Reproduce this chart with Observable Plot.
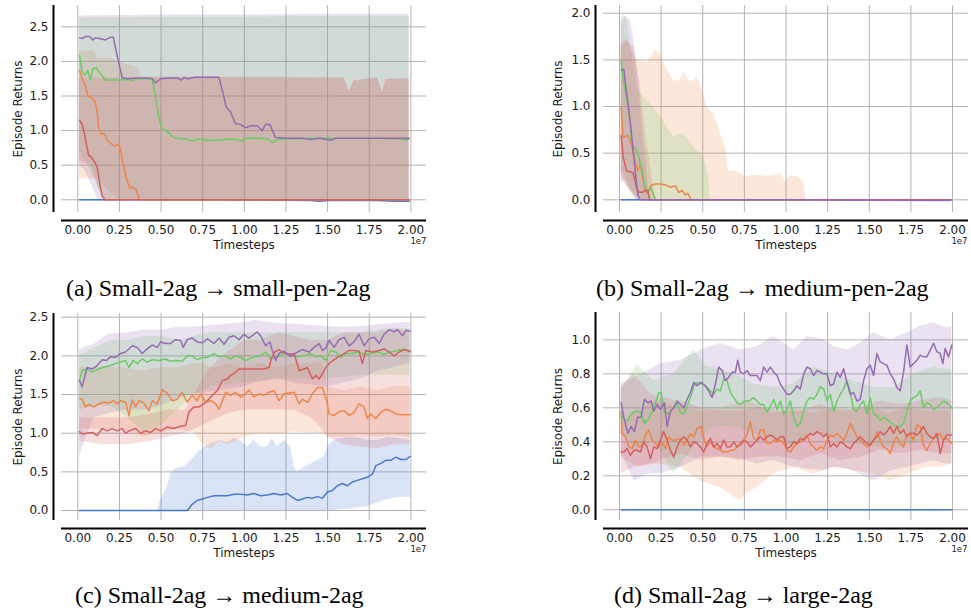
<!DOCTYPE html>
<html>
<head>
<meta charset="utf-8">
<script src="https://cdn.jsdelivr.net/npm/d3@7"></script>
<script src="https://cdn.jsdelivr.net/npm/@observablehq/plot@0.6"></script>
<style>
  html, body { margin: 0; padding: 0; background: #fff; }
  #root { position: relative; width: 971px; height: 614px; overflow: hidden; background: #fff; }
  .panel { position: absolute; }
  .cap { position: absolute; font-family: "Liberation Serif", "Times New Roman", serif; font-size: 24px; line-height: 1; color: #000; white-space: nowrap; }
</style>
</head>
<body>
<div id="root"></div>
<script>
// ---------- shared ----------
const seriesNames = ["blue", "orange", "green", "red", "purple"];
const seriesColors = ["#4878d0", "#ee854a", "#6acc64", "#d65f5f", "#956cb4"];
const xTicks = [0, 0.25, 0.5, 0.75, 1.0, 1.25, 1.5, 1.75, 2.0];
const yTicksA = [0, 0.5, 1.0, 1.5, 2.0, 2.5];
const yTicksB = [0, 0.5, 1.0, 1.5, 2.0];
const yTicksC = [0, 0.5, 1.0, 1.5, 2.0, 2.5];
const yTicksD = [0, 0.2, 0.4, 0.6, 0.8, 1.0];
const captions = [
  "(a) Small-2ag \u2192 small-pen-2ag",
  "(b) Small-2ag \u2192 medium-pen-2ag",
  "(c) Small-2ag \u2192 medium-2ag",
  "(d) Small-2ag \u2192 large-2ag"
];

// ---------- panel (a): mean lines [x(1e7), y] ----------
const a_blue = [[0.01,0],[0.5,0],[0.9,0],[0.95,-0.005],[1.0,0],[1.4,-0.01],[1.45,-0.02],[1.5,-0.01],[1.8,-0.01],[1.9,-0.02],[1.99,-0.02]];
const a_orange = [[0.01,1.87],[0.03,1.72],[0.045,1.65],[0.06,1.5],[0.08,1.48],[0.1,1.44],[0.115,1.3],[0.125,1.05],[0.14,0.95],[0.16,0.95],[0.18,0.85],[0.2,0.81],[0.22,0.78],[0.24,0.80],[0.255,0.75],[0.27,0.55],[0.29,0.33],[0.31,0.17],[0.33,0.18],[0.35,0.15],[0.37,0],[1.0,0],[1.99,0]];
const a_green = [[0.01,2.09],[0.026,1.84],[0.045,1.80],[0.06,1.87],[0.075,1.73],[0.09,1.89],[0.11,1.91],[0.13,1.84],[0.166,1.73],[0.2,1.73],[0.25,1.73],[0.3,1.74],[0.327,1.72],[0.35,1.75],[0.4,1.75],[0.447,1.75],[0.467,1.48],[0.487,1.19],[0.507,1.01],[0.53,1.0],[0.577,0.90],[0.6,0.89],[0.65,0.88],[0.687,0.85],[0.72,0.88],[0.787,0.86],[0.85,0.86],[0.9,0.88],[0.95,0.87],[0.987,0.85],[1.0,0.89],[1.05,0.89],[1.1,0.89],[1.14,0.88],[1.168,0.83],[1.2,0.87],[1.25,0.88],[1.4,0.89],[1.6,0.89],[1.8,0.89],[1.95,0.88],[1.97,0.86],[1.99,0.88]];
const a_red = [[0.01,1.15],[0.025,1.1],[0.04,0.95],[0.065,0.64],[0.08,0.62],[0.1,0.55],[0.117,0.47],[0.13,0.25],[0.147,0.05],[0.166,0],[1.0,0],[1.99,0]];
const a_purple = [[0.01,2.34],[0.026,2.33],[0.046,2.36],[0.07,2.36],[0.09,2.31],[0.106,2.34],[0.13,2.33],[0.166,2.31],[0.196,2.35],[0.213,2.35],[0.24,2.04],[0.267,1.76],[0.3,1.75],[0.35,1.76],[0.417,1.76],[0.447,1.75],[0.467,1.69],[0.497,1.75],[0.55,1.76],[0.6,1.76],[0.62,1.73],[0.64,1.77],[0.66,1.75],[0.7,1.77],[0.75,1.77],[0.8,1.77],[0.847,1.77],[0.873,1.53],[0.891,1.34],[0.917,1.27],[0.947,1.10],[0.977,1.09],[1.007,1.04],[1.037,1.07],[1.077,1.07],[1.107,1.0],[1.127,1.09],[1.153,1.09],[1.187,0.90],[1.25,0.89],[1.35,0.89],[1.4,0.87],[1.45,0.89],[1.5,0.87],[1.52,0.86],[1.55,0.89],[1.7,0.89],[1.85,0.89],[1.99,0.89]];
// bands [x, lo, hi]
const a_blue_band = [[0.01,0,0],[1.35,-0.01,0.005],[1.45,-0.03,0.005],[1.6,-0.02,0.005],[1.99,-0.03,0.005]];
const a_orange_band = [[0.01,0.3,2.15],[0.1,0.3,2.15],[0.12,0.3,2.05],[0.2,0.1,2.05],[0.25,0,1.98],[0.3,0,1.95],[0.36,0,1.92],[0.38,0,1.77],[1.0,0,1.77],[1.6,0,1.76],[1.63,0,1.57],[1.66,0,1.72],[1.8,0,1.76],[1.83,0,1.55],[1.85,0,1.74],[1.99,0,1.75]];
const a_green_band = [[0.01,0.65,2.62],[0.05,0.55,2.63],[0.1,0.3,2.63],[0.15,0,2.63],[0.5,0,2.64],[1.0,0,2.64],[1.5,0,2.65],[1.99,0,2.65]];
const a_red_band = [[0.01,0.55,1.76],[0.08,0.5,1.76],[0.12,0.2,1.76],[0.16,0,1.76],[0.5,0,1.77],[1.0,0,1.77],[1.6,0,1.76],[1.63,0,1.57],[1.66,0,1.72],[1.8,0,1.76],[1.83,0,1.55],[1.85,0,1.74],[1.99,0,1.75]];
const a_purple_band = [[0.01,0.5,2.65],[0.05,0.4,2.66],[0.12,0,2.66],[0.5,0,2.67],[1.0,0,2.67],[1.5,0,2.68],[1.99,0,2.68]];

// ---------- panel (b) ----------
const b_blue = [[0.01,0],[1.0,0],[1.5,0],[1.99,0]];
const b_orange = [[0.01,1.0],[0.022,0.67],[0.046,0.69],[0.06,0.66],[0.076,0.56],[0.096,0.39],[0.11,0.31],[0.126,0.40],[0.142,0.21],[0.156,0.09],[0.17,0.07],[0.186,0.15],[0.216,0.17],[0.246,0.17],[0.276,0.16],[0.306,0.135],[0.336,0.15],[0.356,0.08],[0.376,0.10],[0.396,0.05],[0.41,0.07],[0.43,0],[1.0,0],[1.99,0]];
const b_green = [[0.01,1.49],[0.022,1.30],[0.046,1.06],[0.066,0.81],[0.076,0.56],[0.096,0.55],[0.116,0.46],[0.136,0.31],[0.156,0.135],[0.17,0.08],[0.186,0.13],[0.2,0.08],[0.216,0],[1.0,0],[1.99,0]];
const b_red = [[0.01,0.69],[0.022,0.46],[0.042,0.31],[0.062,0.30],[0.082,0.29],[0.102,0.135],[0.116,0.08],[0.136,0.08],[0.156,0.10],[0.17,0.10],[0.182,0],[1.0,0],[1.99,0]];
const b_purple = [[0.01,1.39],[0.026,1.40],[0.036,1.24],[0.056,0.96],[0.076,0.64],[0.096,0.28],[0.11,0.06],[0.122,0],[1.0,0],[1.6,-0.005],[1.99,-0.005]];
const b_blue_band = [[0.01,0,0],[1.5,-0.005,0.005],[1.6,-0.02,0.005],[1.99,-0.03,0.005]];
const b_orange_band = [[0.01,0.3,1.65],[0.05,0.15,1.7],[0.1,0.05,1.5],[0.126,0,1.49],[0.166,0,1.47],[0.216,0,1.60],[0.246,0,1.56],[0.286,0,1.39],[0.326,0,1.28],[0.36,0,1.27],[0.386,0,1.37],[0.416,0,1.28],[0.446,0,1.27],[0.466,0,1.31],[0.496,0,1.19],[0.526,0,0.99],[0.566,0,0.92],[0.606,0,0.71],[0.636,0,0.56],[0.656,0,0.31],[0.706,0,0.31],[0.73,0,0.28],[0.756,0,0.25],[0.8,0,0.26],[0.846,0,0.26],[0.88,0,0.25],[0.926,0,0.26],[0.966,0,0.28],[0.996,0,0.19],[1.026,0,0.26],[1.07,0,0.25],[1.106,0,0.19],[1.12,0,0],[1.99,0,0]];
const b_green_band = [[0.01,0.3,1.96],[0.022,0.3,1.99],[0.046,0.2,1.92],[0.08,0.05,1.5],[0.1,0,1.25],[0.126,0,1.14],[0.186,0,1.03],[0.246,0,0.89],[0.326,0,0.67],[0.386,0,0.71],[0.446,0,0.56],[0.506,0,0.46],[0.536,0,0.24],[0.546,0,0],[1.99,0,0]];
const b_red_band = [[0.01,0.25,1.67],[0.036,0.15,1.72],[0.086,0.05,1.64],[0.1,0,1.5],[0.126,0,1.2],[0.156,0,0.71],[0.186,0,0.35],[0.216,0,0],[1.99,0,0]];
const b_purple_band = [[0.01,0.2,1.90],[0.036,0.2,1.97],[0.066,0.1,1.92],[0.086,0.05,1.71],[0.116,0,1.24],[0.136,0,0.78],[0.156,0,0.46],[0.176,0,0.1],[0.186,0,0],[1.99,0,0]];

// ---------- panel (c) ----------
const c_blue = [[0.01,0],[0.3,0],[0.657,0],[0.687,0.08],[0.717,0.13],[0.748,0.15],[0.778,0.17],[0.818,0.19],[0.858,0.19],[0.898,0.19],[0.938,0.21],[0.978,0.21],[1.018,0.20],[1.058,0.22],[1.098,0.19],[1.138,0.20],[1.178,0.22],[1.218,0.20],[1.258,0.22],[1.289,0.17],[1.319,0.13],[1.349,0.15],[1.379,0.17],[1.409,0.16],[1.439,0.18],[1.469,0.16],[1.499,0.24],[1.529,0.26],[1.559,0.32],[1.589,0.35],[1.619,0.32],[1.649,0.37],[1.679,0.39],[1.709,0.41],[1.739,0.43],[1.769,0.47],[1.79,0.58],[1.82,0.61],[1.85,0.65],[1.88,0.65],[1.91,0.69],[1.94,0.66],[1.97,0.66],[1.996,0.70]];
const c_orange = [[0.01,1.45],[0.026,1.44],[0.046,1.34],[0.066,1.37],[0.096,1.34],[0.126,1.38],[0.156,1.40],[0.186,1.39],[0.216,1.42],[0.236,1.38],[0.256,1.42],[0.287,1.40],[0.307,1.23],[0.327,1.43],[0.347,1.34],[0.367,1.42],[0.397,1.39],[0.427,1.29],[0.447,1.42],[0.477,1.38],[0.507,1.56],[0.537,1.52],[0.567,1.42],[0.597,1.44],[0.627,1.53],[0.657,1.40],[0.687,1.49],[0.717,1.42],[0.737,1.51],[0.768,1.40],[0.798,1.42],[0.828,1.38],[0.848,1.31],[0.868,1.42],[0.888,1.53],[0.918,1.49],[0.948,1.53],[0.978,1.47],[1.008,1.51],[1.028,1.56],[1.058,1.47],[1.088,1.51],[1.118,1.49],[1.148,1.53],[1.178,1.55],[1.208,1.42],[1.238,1.51],[1.269,1.52],[1.299,1.53],[1.329,1.38],[1.349,1.44],[1.379,1.40],[1.409,1.51],[1.439,1.59],[1.469,1.59],[1.495,1.42],[1.509,1.25],[1.539,1.23],[1.569,1.28],[1.599,1.29],[1.629,1.23],[1.659,1.27],[1.689,1.38],[1.719,1.34],[1.739,1.19],[1.759,1.25],[1.79,1.19],[1.82,1.27],[1.85,1.31],[1.88,1.29],[1.91,1.25],[1.94,1.24],[1.996,1.24]];
const c_green = [[0.01,1.68],[0.026,1.81],[0.056,1.83],[0.086,1.79],[0.116,1.82],[0.146,1.85],[0.196,1.875],[0.226,1.90],[0.256,1.92],[0.287,1.94],[0.307,1.85],[0.333,1.94],[0.357,1.90],[0.387,1.96],[0.417,1.92],[0.447,1.95],[0.487,1.94],[0.527,1.96],[0.557,1.93],[0.587,1.94],[0.627,1.93],[0.657,2.0],[0.687,2.0],[0.717,1.95],[0.748,1.98],[0.778,1.98],[0.818,2.03],[0.848,1.99],[0.878,2.0],[0.918,1.96],[0.948,2.0],[0.978,1.98],[1.008,1.94],[1.038,1.97],[1.068,1.99],[1.098,2.0],[1.128,2.05],[1.158,1.96],[1.188,1.99],[1.218,2.0],[1.248,2.05],[1.279,2.0],[1.319,1.99],[1.359,2.0],[1.399,2.03],[1.429,1.99],[1.459,2.0],[1.489,1.94],[1.519,2.07],[1.549,2.05],[1.579,1.98],[1.609,2.03],[1.649,2.03],[1.679,2.05],[1.719,2.02],[1.759,2.03],[1.80,2.05],[1.84,2.02],[1.88,2.05],[1.92,2.07],[1.96,2.09],[1.996,2.05]];
const c_red = [[0.01,1.02],[0.026,0.99],[0.056,1.0],[0.086,1.01],[0.116,0.97],[0.146,1.06],[0.176,1.03],[0.206,1.06],[0.236,1.03],[0.266,1.06],[0.287,1.0],[0.317,1.04],[0.347,1.06],[0.377,1.0],[0.407,1.03],[0.437,1.01],[0.467,1.06],[0.497,1.03],[0.537,1.08],[0.577,1.06],[0.617,1.09],[0.647,1.10],[0.667,1.27],[0.697,1.34],[0.727,1.34],[0.757,1.38],[0.778,1.42],[0.808,1.49],[0.838,1.55],[0.868,1.68],[0.898,1.70],[0.918,1.75],[0.938,1.77],[0.968,1.83],[0.998,1.83],[1.038,1.83],[1.078,1.83],[1.118,1.83],[1.148,1.85],[1.162,1.96],[1.182,2.05],[1.208,2.08],[1.228,2.05],[1.248,2.03],[1.279,2.02],[1.299,2.03],[1.329,1.81],[1.359,1.83],[1.379,1.85],[1.409,1.70],[1.429,1.75],[1.449,1.70],[1.469,1.77],[1.489,1.85],[1.519,1.92],[1.559,1.98],[1.599,2.03],[1.629,2.07],[1.659,2.07],[1.689,2.06],[1.709,1.90],[1.729,2.07],[1.769,2.05],[1.81,2.07],[1.84,2.09],[1.87,2.05],[1.90,2.0],[1.93,2.05],[1.96,2.08],[1.996,2.06]];
const c_purple = [[0.01,1.68],[0.026,1.60],[0.056,1.85],[0.086,1.83],[0.116,1.875],[0.146,1.95],[0.172,1.94],[0.196,1.99],[0.226,1.98],[0.256,2.03],[0.287,2.05],[0.327,2.13],[0.357,2.11],[0.387,2.03],[0.417,2.09],[0.447,2.14],[0.477,2.11],[0.497,2.18],[0.527,2.16],[0.557,2.16],[0.587,2.21],[0.617,2.20],[0.633,2.11],[0.657,2.21],[0.687,2.23],[0.717,2.18],[0.748,2.17],[0.778,2.22],[0.818,2.16],[0.848,2.23],[0.878,2.15],[0.908,2.24],[0.938,2.26],[0.968,2.21],[0.998,2.28],[1.028,2.23],[1.058,2.28],[1.078,2.31],[1.098,2.26],[1.128,2.13],[1.154,2.18],[1.168,2.07],[1.188,1.94],[1.208,2.03],[1.238,2.06],[1.279,1.99],[1.319,2.05],[1.349,2.08],[1.389,2.05],[1.419,2.11],[1.449,2.16],[1.469,2.07],[1.489,2.10],[1.509,2.20],[1.539,2.11],[1.569,2.21],[1.599,2.24],[1.629,2.13],[1.659,2.18],[1.689,2.28],[1.719,2.13],[1.749,2.22],[1.78,2.24],[1.81,2.16],[1.84,2.28],[1.87,2.34],[1.90,2.31],[1.92,2.34],[1.95,2.26],[1.97,2.33],[1.996,2.32]];
const c_blue_band = [[0.01,0,0],[0.477,0,0],[0.497,0,0.13],[0.537,0,0.30],[0.557,0,0.47],[0.587,0,0.54],[0.627,0,0.56],[0.657,0,0.60],[0.697,0,0.69],[0.737,0,0.78],[0.778,0,0.84],[0.818,0,0.88],[0.858,0,0.905],[0.898,0,0.88],[0.938,0,0.93],[0.978,0,0.905],[1.018,0,0.82],[1.058,0,0.91],[1.098,0,0.82],[1.138,0,0.82],[1.168,0,0.93],[1.198,0,0.82],[1.238,0,0.905],[1.279,0,0.82],[1.299,0,0.56],[1.319,0,0.50],[1.359,0,0.56],[1.399,0,0.60],[1.439,0,0.65],[1.479,0,0.69],[1.499,0,0.82],[1.539,0,0.905],[1.579,0.01,0.93],[1.639,0.02,0.95],[1.699,0.04,0.93],[1.74,0.05,0.905],[1.8,0.1,0.905],[1.84,0.13,0.93],[1.86,0.14,0.95],[1.92,0.17,0.93],[1.996,0.17,0.905]];
const c_orange_band = [[0.01,1.05,1.85],[0.1,1.05,1.85],[0.25,1.05,1.85],[0.4,0.95,1.8],[0.5,1.0,1.85],[0.6,1.05,1.85],[0.7,1.0,1.9],[0.75,0.85,1.9],[0.8,0.8,1.85],[0.85,0.9,1.85],[0.9,0.85,1.9],[1.0,0.95,1.85],[1.1,1.0,1.9],[1.2,0.98,1.85],[1.3,1.02,1.9],[1.4,1.0,1.9],[1.47,1.0,1.92],[1.5,0.95,1.6],[1.6,0.95,1.55],[1.7,0.97,1.6],[1.8,0.95,1.55],[1.9,0.97,1.6],[1.996,0.95,1.6]];
const c_green_band = [[0.01,1.3,2.0],[0.1,1.35,2.1],[0.2,1.35,2.2],[0.3,1.2,2.2],[0.4,1.0,2.25],[0.5,1.1,2.25],[0.6,1.3,2.2],[0.7,1.5,2.25],[0.8,1.6,2.3],[1.0,1.65,2.3],[1.2,1.7,2.3],[1.5,1.7,2.3],[1.7,1.75,2.3],[1.85,1.75,2.35],[1.996,1.75,2.35]];
const c_red_band = [[0.01,0.9,1.2],[0.15,0.85,1.2],[0.3,0.85,1.2],[0.45,0.9,1.25],[0.55,0.95,1.3],[0.65,1.0,1.3],[0.7,1.05,1.5],[0.75,1.1,1.7],[0.8,1.15,1.85],[0.9,1.25,2.05],[1.0,1.3,2.2],[1.1,1.3,2.2],[1.2,1.3,2.3],[1.3,1.3,2.25],[1.4,1.2,2.2],[1.45,1.1,2.2],[1.5,0.95,2.2],[1.55,0.9,2.25],[1.6,0.85,2.3],[1.7,0.82,2.3],[1.8,0.8,2.3],[1.9,0.85,2.35],[1.996,0.85,2.3]];
const c_purple_band = [[0.01,0.7,2.07],[0.05,0.95,2.12],[0.1,1.2,2.15],[0.18,1.25,2.28],[0.3,1.3,2.3],[0.4,1.3,2.33],[0.5,1.35,2.33],[0.6,1.45,2.37],[0.7,1.5,2.37],[0.85,1.55,2.4],[1.0,1.6,2.43],[1.06,1.65,2.46],[1.2,1.7,2.42],[1.3,1.65,2.41],[1.5,1.6,2.38],[1.6,1.65,2.37],[1.7,1.7,2.38],[1.8,1.8,2.4],[1.9,1.85,2.42],[1.996,1.9,2.43]];

// ---------- panel (d) ----------
const d_blue = [[0.01,0],[1.0,0],[1.996,0]];
const d_orange = [[0.01,0.58],[0.016,0.45],[0.036,0.43],[0.056,0.37],[0.076,0.36],[0.096,0.41],[0.116,0.37],[0.136,0.38],[0.156,0.44],[0.176,0.47],[0.196,0.41],[0.216,0.39],[0.236,0.37],[0.256,0.40],[0.276,0.36],[0.296,0.43],[0.316,0.41],[0.336,0.41],[0.366,0.42],[0.386,0.38],[0.406,0.41],[0.426,0.45],[0.446,0.43],[0.466,0.48],[0.49,0.49],[0.51,0.41],[0.526,0.37],[0.546,0.40],[0.566,0.37],[0.586,0.36],[0.606,0.35],[0.626,0.34],[0.646,0.34],[0.666,0.35],[0.686,0.35],[0.706,0.37],[0.726,0.38],[0.746,0.40],[0.766,0.44],[0.786,0.52],[0.806,0.42],[0.826,0.41],[0.846,0.47],[0.866,0.47],[0.886,0.39],[0.906,0.39],[0.926,0.41],[0.946,0.40],[0.966,0.41],[0.986,0.39],[1.006,0.35],[1.026,0.34],[1.046,0.37],[1.066,0.39],[1.086,0.40],[1.106,0.42],[1.126,0.44],[1.146,0.39],[1.166,0.37],[1.186,0.35],[1.206,0.37],[1.226,0.36],[1.246,0.41],[1.266,0.44],[1.286,0.43],[1.306,0.45],[1.326,0.43],[1.346,0.41],[1.366,0.45],[1.386,0.51],[1.406,0.47],[1.426,0.43],[1.446,0.41],[1.466,0.39],[1.486,0.37],[1.506,0.39],[1.526,0.41],[1.546,0.46],[1.566,0.41],[1.586,0.37],[1.606,0.36],[1.626,0.33],[1.646,0.40],[1.666,0.43],[1.686,0.39],[1.706,0.37],[1.726,0.44],[1.746,0.45],[1.766,0.41],[1.786,0.50],[1.806,0.49],[1.826,0.38],[1.846,0.35],[1.866,0.39],[1.886,0.42],[1.906,0.43],[1.926,0.45],[1.946,0.41],[1.966,0.42],[1.996,0.39]];
const d_green = [[0.01,0.57],[0.026,0.53],[0.05,0.525],[0.07,0.565],[0.096,0.58],[0.126,0.575],[0.15,0.51],[0.176,0.535],[0.206,0.60],[0.236,0.69],[0.25,0.69],[0.27,0.575],[0.296,0.565],[0.322,0.60],[0.346,0.63],[0.366,0.57],[0.386,0.565],[0.406,0.61],[0.426,0.66],[0.45,0.74],[0.476,0.75],[0.496,0.74],[0.526,0.72],[0.546,0.70],[0.566,0.68],[0.586,0.71],[0.606,0.70],[0.626,0.77],[0.646,0.76],[0.666,0.69],[0.686,0.66],[0.706,0.63],[0.726,0.62],[0.75,0.64],[0.776,0.64],[0.806,0.66],[0.826,0.64],[0.846,0.62],[0.866,0.62],[0.886,0.575],[0.906,0.61],[0.926,0.65],[0.946,0.59],[0.966,0.64],[0.986,0.565],[1.006,0.59],[1.026,0.64],[1.046,0.545],[1.066,0.49],[1.086,0.51],[1.106,0.58],[1.126,0.64],[1.146,0.66],[1.166,0.65],[1.186,0.68],[1.206,0.725],[1.226,0.71],[1.246,0.64],[1.266,0.68],[1.286,0.58],[1.306,0.64],[1.326,0.68],[1.346,0.71],[1.366,0.76],[1.386,0.69],[1.406,0.59],[1.426,0.58],[1.446,0.62],[1.466,0.64],[1.486,0.565],[1.506,0.66],[1.526,0.565],[1.546,0.555],[1.566,0.525],[1.586,0.545],[1.606,0.535],[1.626,0.515],[1.646,0.50],[1.666,0.49],[1.686,0.49],[1.706,0.51],[1.726,0.58],[1.746,0.64],[1.766,0.66],[1.786,0.67],[1.806,0.70],[1.826,0.60],[1.846,0.63],[1.866,0.62],[1.886,0.59],[1.906,0.60],[1.926,0.62],[1.946,0.64],[1.966,0.63],[1.996,0.60]];
const d_red = [[0.01,0.34],[0.026,0.34],[0.046,0.36],[0.066,0.32],[0.086,0.35],[0.106,0.35],[0.126,0.34],[0.146,0.40],[0.166,0.37],[0.186,0.30],[0.206,0.37],[0.226,0.36],[0.246,0.41],[0.266,0.46],[0.286,0.41],[0.306,0.35],[0.326,0.31],[0.346,0.37],[0.366,0.41],[0.386,0.43],[0.406,0.41],[0.426,0.37],[0.446,0.40],[0.466,0.39],[0.486,0.37],[0.506,0.34],[0.526,0.39],[0.546,0.42],[0.566,0.37],[0.586,0.39],[0.606,0.36],[0.626,0.41],[0.646,0.37],[0.666,0.37],[0.686,0.40],[0.706,0.37],[0.726,0.39],[0.746,0.41],[0.766,0.40],[0.786,0.37],[0.806,0.39],[0.826,0.41],[0.846,0.43],[0.866,0.41],[0.886,0.43],[0.906,0.44],[0.926,0.43],[0.946,0.41],[0.966,0.43],[0.986,0.43],[1.006,0.36],[1.026,0.37],[1.046,0.40],[1.066,0.39],[1.086,0.42],[1.106,0.41],[1.126,0.43],[1.146,0.45],[1.166,0.44],[1.186,0.46],[1.206,0.45],[1.226,0.43],[1.246,0.45],[1.266,0.37],[1.286,0.39],[1.306,0.37],[1.326,0.40],[1.346,0.39],[1.366,0.37],[1.386,0.36],[1.406,0.39],[1.426,0.41],[1.446,0.43],[1.466,0.41],[1.486,0.39],[1.506,0.38],[1.526,0.41],[1.546,0.43],[1.566,0.46],[1.586,0.44],[1.606,0.46],[1.626,0.49],[1.646,0.45],[1.666,0.49],[1.686,0.45],[1.706,0.47],[1.726,0.43],[1.746,0.45],[1.766,0.45],[1.786,0.44],[1.806,0.46],[1.826,0.49],[1.846,0.45],[1.866,0.43],[1.886,0.42],[1.906,0.45],[1.926,0.33],[1.946,0.41],[1.966,0.44],[1.996,0.44]];
const d_purple = [[0.01,0.63],[0.026,0.545],[0.05,0.45],[0.07,0.49],[0.09,0.46],[0.11,0.545],[0.13,0.545],[0.15,0.65],[0.17,0.63],[0.19,0.64],[0.206,0.58],[0.226,0.62],[0.246,0.59],[0.27,0.63],[0.286,0.49],[0.306,0.58],[0.326,0.60],[0.346,0.64],[0.366,0.62],[0.386,0.60],[0.406,0.65],[0.426,0.69],[0.446,0.75],[0.466,0.73],[0.49,0.75],[0.516,0.73],[0.536,0.70],[0.556,0.66],[0.576,0.74],[0.596,0.84],[0.616,0.82],[0.636,0.76],[0.656,0.78],[0.676,0.81],[0.696,0.81],[0.71,0.88],[0.726,0.81],[0.746,0.80],[0.766,0.82],[0.786,0.79],[0.806,0.79],[0.826,0.79],[0.846,0.76],[0.866,0.84],[0.886,0.81],[0.906,0.84],[0.926,0.81],[0.946,0.79],[0.966,0.74],[0.986,0.71],[1.006,0.68],[1.026,0.68],[1.046,0.70],[1.066,0.73],[1.086,0.71],[1.106,0.80],[1.126,0.84],[1.146,0.83],[1.166,0.79],[1.186,0.82],[1.206,0.81],[1.226,0.80],[1.246,0.80],[1.266,0.73],[1.286,0.74],[1.306,0.81],[1.326,0.78],[1.346,0.83],[1.366,0.75],[1.386,0.68],[1.406,0.69],[1.426,0.64],[1.446,0.65],[1.466,0.76],[1.486,0.83],[1.506,0.85],[1.526,0.79],[1.546,0.92],[1.566,0.87],[1.586,0.86],[1.606,0.85],[1.626,0.80],[1.646,0.77],[1.666,0.72],[1.686,0.70],[1.706,0.81],[1.726,0.97],[1.746,0.84],[1.766,0.86],[1.786,0.88],[1.806,0.91],[1.826,0.90],[1.846,0.90],[1.866,0.94],[1.886,0.98],[1.906,0.93],[1.926,0.92],[1.942,0.86],[1.956,0.95],[1.976,0.90],[1.996,0.97]];
const d_blue_band = [[0.01,0,0],[1.996,0,0]];
const d_orange_band = [[0.01,0.31,0.51],[0.106,0.25,0.58],[0.226,0.27,0.64],[0.366,0.25,0.60],[0.486,0.17,0.58],[0.606,0.13,0.60],[0.68,0.08,0.62],[0.726,0.055,0.62],[0.766,0.10,0.64],[0.826,0.13,0.62],[0.926,0.21,0.565],[1.046,0.25,0.60],[1.166,0.21,0.565],[1.286,0.25,0.60],[1.406,0.23,0.58],[1.526,0.21,0.60],[1.626,0.17,0.565],[1.726,0.21,0.60],[1.846,0.25,0.58],[1.926,0.25,0.58],[1.996,0.27,0.58]];
const d_green_band = [[0.01,0.45,0.70],[0.106,0.33,0.86],[0.206,0.41,0.76],[0.326,0.21,0.80],[0.446,0.37,0.94],[0.526,0.45,0.84],[0.566,0.49,0.84],[0.686,0.49,0.80],[0.806,0.45,0.74],[0.926,0.41,0.72],[1.046,0.37,0.74],[1.166,0.45,0.84],[1.286,0.41,0.80],[1.406,0.39,0.76],[1.526,0.37,0.72],[1.646,0.37,0.72],[1.766,0.39,0.80],[1.886,0.41,0.84],[1.996,0.41,0.82]];
const d_red_band = [[0.01,0.21,0.72],[0.086,0.25,0.80],[0.186,0.27,0.68],[0.246,0.29,0.66],[0.366,0.33,0.64],[0.49,0.29,0.60],[0.606,0.31,0.58],[0.726,0.29,0.58],[0.846,0.31,0.60],[0.966,0.31,0.58],[1.086,0.29,0.58],[1.206,0.33,0.62],[1.326,0.29,0.58],[1.446,0.31,0.60],[1.566,0.35,0.64],[1.686,0.33,0.62],[1.806,0.35,0.64],[1.926,0.33,0.66],[1.996,0.33,0.64]];
const d_purple_band = [[0.01,0.33,0.74],[0.09,0.17,0.78],[0.17,0.21,0.82],[0.246,0.21,0.86],[0.37,0.25,0.88],[0.49,0.31,0.94],[0.606,0.31,0.98],[0.73,0.30,0.94],[0.826,0.27,0.96],[0.926,0.29,1.02],[1.046,0.25,0.94],[1.066,0.25,0.96],[1.126,0.24,1.02],[1.226,0.23,1.0],[1.29,0.25,0.96],[1.37,0.24,0.94],[1.446,0.21,0.98],[1.526,0.17,1.04],[1.63,0.23,1.0],[1.726,0.25,1.04],[1.806,0.27,1.08],[1.886,0.29,1.10],[1.966,0.27,1.07],[1.996,0.27,1.08]];

// ---------- drawing ----------
function panel(cfg) {
  const marks = [
    Plot.gridX(xTicks, {stroke: "#b4b4b4", strokeOpacity: 1, strokeWidth: 1}),
    Plot.gridY(cfg.yTicks, {stroke: "#b4b4b4", strokeOpacity: 1, strokeWidth: 1}),
  ];
  cfg.bands.forEach((b, i) => {
    marks.push(Plot.areaY(b, {x: d => d[0], y1: d => d[1], y2: d => d[2], fill: seriesColors[i], fillOpacity: 0.2, curve: "linear"}));
  });
  cfg.lines.forEach((l, i) => {
    marks.push(Plot.lineY(l, {x: d => d[0], y: d => d[1], stroke: seriesColors[i], strokeWidth: 1.5, curve: "linear"}));
  });
  marks.push(
    Plot.ruleX([cfg.xDomain[0]], {dx: -8, stroke: "#000", strokeWidth: 2}),
    Plot.ruleY([cfg.yDomain[0]], {dy: 8, stroke: "#000", strokeWidth: 2}),
    Plot.axisX(xTicks, {tickSize: 0, tickPadding: 13, tickFormat: d => d.toFixed(2), label: null, fill: "#1a1a1a"}),
    Plot.axisY(cfg.yTicks, {tickSize: 0, tickPadding: 13, tickFormat: d => d.toFixed(1), label: null, fill: "#1a1a1a"}),
    Plot.text(["Episode Returns"], {frameAnchor: "left", dx: cfg.ylabDx, rotate: -90, textAnchor: "middle", lineAnchor: "middle", fontSize: 12, fill: "#1a1a1a"}),
    Plot.text(["Timesteps"], {frameAnchor: "bottom", dy: 33, textAnchor: "middle", lineAnchor: "middle", fontSize: 12, fill: "#1a1a1a"}),
    Plot.text(["1e7"], {frameAnchor: "bottom-right", dx: cfg.e7dx, dy: 29, textAnchor: "end", lineAnchor: "middle", fontSize: 8.5, fill: "#1a1a1a"})
  );
  return Plot.plot({
    width: cfg.width, height: cfg.height,
    marginLeft: cfg.ml, marginRight: cfg.mr, marginTop: cfg.mt, marginBottom: cfg.mb,
    x: {domain: cfg.xDomain},
    y: {domain: cfg.yDomain},
    style: {fontFamily: "'DejaVu Sans', sans-serif", fontSize: "12px", background: "transparent", overflow: "visible"},
    marks
  });
}

const root = document.getElementById("root");
const specs = [
  {left: 0, top: 0, width: 440, height: 260, ml: 61, mr: 14, mt: 5, mb: 48, xDomain: [-0.098, 2.094], yDomain: [-0.1835, 2.808], yTicks: yTicksA, ylabDx: -43, e7dx: 0,
   lines: [a_blue, a_orange, a_green, a_red, a_purple], bands: [a_blue_band, a_orange_band, a_green_band, a_red_band, a_purple_band]},
  {left: 540, top: 0, width: 431, height: 260, ml: 63, mr: 3, mt: 5, mb: 48, xDomain: [-0.096, 2.096], yDomain: [-0.136, 2.083], yTicks: yTicksB, ylabDx: -45, e7dx: -1,
   lines: [b_blue, b_orange, b_green, b_red, b_purple], bands: [b_blue_band, b_orange_band, b_green_band, b_red_band, b_purple_band]},
  {left: 0, top: 300, width: 440, height: 270, ml: 61, mr: 14, mt: 13, mb: 50, xDomain: [-0.098, 2.094], yDomain: [-0.129, 2.548], yTicks: yTicksC, ylabDx: -43, e7dx: 0,
   lines: [c_blue, c_orange, c_green, c_red, c_purple], bands: [c_blue_band, c_orange_band, c_green_band, c_red_band, c_purple_band]},
  {left: 540, top: 300, width: 431, height: 270, ml: 63, mr: 3, mt: 12, mb: 50, xDomain: [-0.096, 2.096], yDomain: [-0.063, 1.161], yTicks: yTicksD, ylabDx: -45, e7dx: -1,
   lines: [d_blue, d_orange, d_green, d_red, d_purple], bands: [d_blue_band, d_orange_band, d_green_band, d_red_band, d_purple_band]}
];
specs.forEach(s => {
  const div = document.createElement("div");
  div.className = "panel";
  div.style.left = s.left + "px";
  div.style.top = s.top + "px";
  div.appendChild(panel(s));
  root.appendChild(div);
});

const capPos = [[66, 276], [596, 276], [75, 583], [614, 583]];
captions.forEach((t, i) => {
  const c = document.createElement("div");
  c.className = "cap";
  c.textContent = t;
  c.style.left = capPos[i][0] + "px";
  c.style.top = capPos[i][1] + "px";
  root.appendChild(c);
});
</script>
</body>
</html>
